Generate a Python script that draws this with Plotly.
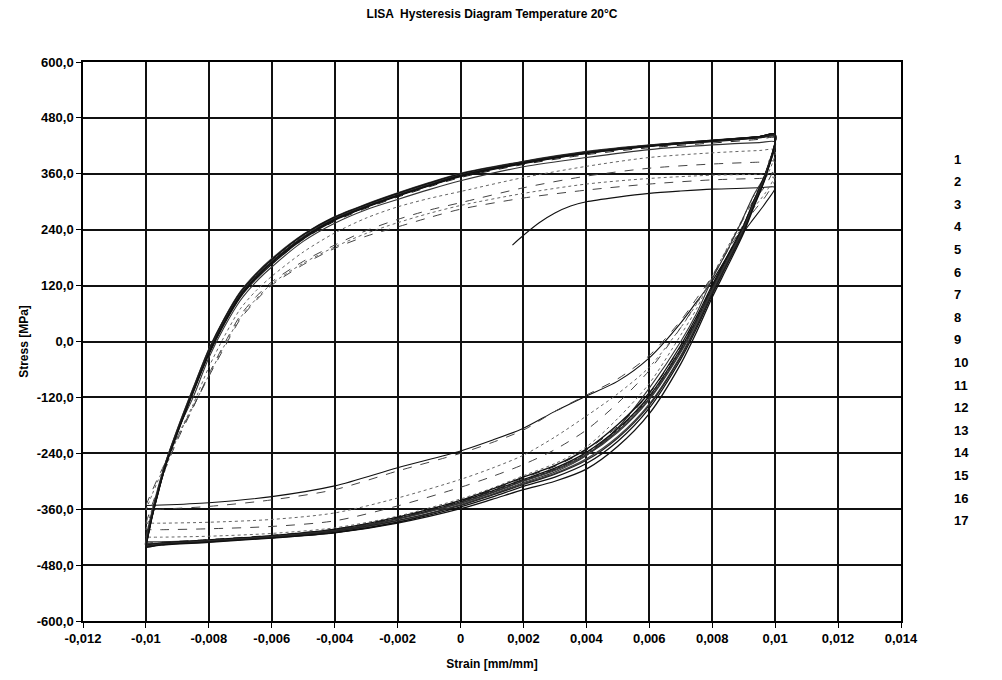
import plotly.graph_objects as go

# ---------------- data ----------------
LOAD_STRAIN = [-0.01, -0.0098, -0.0096, -0.0094, -0.009, -0.0085, -0.008, -0.0075, -0.007, -0.0065,
               -0.006, -0.005, -0.004, -0.003, -0.002, -0.001, 0.0, 0.002, 0.004, 0.006,
               0.008, 0.0095, 0.01]
UNLOAD_STRAIN = [0.01, 0.0097, 0.0093, 0.009, 0.0085, 0.008, 0.0075, 0.007, 0.006, 0.005,
                 0.004, 0.003, 0.002, 0.001, 0.0, -0.002, -0.004, -0.006, -0.008, -0.0095, -0.01]

c01_load_strain = [0.00165, 0.002, 0.0025, 0.003, 0.0035, 0.004, 0.005, 0.006, 0.007, 0.008, 0.009, 0.0095, 0.01]
c01_load = [207, 228, 255, 276, 291, 300, 310, 318, 323, 327, 329, 330, 331]
c01_unload = [331, 298, 262, 235, 185, 130, 85, 40, -35, -85, -117, -150, -186, -212, -235, -271, -310, -333, -346, -351, -352]

c02_load = [-352, -320, -290, -262, -205, -140, -75, -12, 48, 88, 121, 165, 200, 226, 246, 266, 284, 308, 325, 338, 347, 350, 351]
c02_unload = [351, 312, 278, 248, 196, 140, 92, 45, -30, -80, -115, -150, -190, -217, -240, -278, -318, -340, -354, -360, -362]

c03_load = [-362, -328, -296, -266, -207, -140, -73, -8, 51, 91, 124, 168, 203, 232, 255, 275, 292, 318, 338, 350, 357, 359, 360]
c03_unload = [360, 320, 285, 252, 196, 136, 80, 30, -55, -112, -160, -205, -244, -272, -296, -336, -368, -382, -388, -390, -390]

c04_load = [-390, -350, -312, -276, -212, -142, -70, -4, 56, 96, 128, 172, 207, 238, 262, 282, 298, 330, 355, 372, 381, 385, 386]
c04_unload = [386, 335, 302, 264, 202, 140, 82, 30, -62, -132, -190, -232, -264, -290, -313, -353, -385, -397, -402, -404, -404]

c05_load = [-404, -358, -316, -278, -205, -135, -55, 12, 70, 109, 140, 192, 233, 265, 289, 307, 322, 352, 376, 395, 405, 410, 411]
c05_unload = [411, 350, 310, 268, 204, 140, 70, 14, -90, -165, -226, -262, -288, -315, -338, -375, -400, -412, -418, -420, -420]

c06_load = [-420, -362, -310, -265, -192, -120, -35, 32, 88, 128, 160, 215, 254, 283, 305, 326, 345, 375, 395, 412, 422, 427, 428]
c06_unload = [428, 360, 312, 268, 198, 134, 60, 0, -100, -185, -245, -280, -303, -328, -350, -388, -410, -421, -427, -430, -430]

c07_load = [-430, -368, -315, -266, -192, -107, -26, 40, 96, 135, 166, 219, 258, 286, 310, 332, 352, 380, 401, 416, 426, 434, 437]
c07_unload = [437, 362, 300, 250, 186, 120, 52, -10, -112, -182, -233, -268, -293, -319, -342, -378, -403, -416, -425, -431, -433]

c08_load = [-433, -370, -317, -268, -193, -106, -23, 44, 100, 139, 171, 223, 262, 289, 313, 335, 355, 383, 404, 419, 429, 437, 440]
c08_unload = [440, 361, 297, 247, 182, 116, 47, -15, -117, -187, -238, -272, -296, -321, -344, -380, -405, -418, -427, -433, -435]

c09_load = [-435, -371, -316, -265, -188, -100, -16, 50, 106, 145, 176, 228, 266, 293, 317, 339, 358, 385, 406, 420, 430, 438, 441]
c09_unload = [441, 359, 294, 244, 178, 112, 42, -20, -122, -192, -242, -275, -299, -324, -347, -381, -406, -419, -428, -434, -436]

c10_load = [-436, -373, -319, -269, -193, -104, -20, 47, 103, 142, 174, 226, 265, 292, 316, 338, 358, 385, 406, 421, 431, 439, 442]
c10_unload = [442, 360, 295, 245, 180, 114, 45, -18, -120, -190, -240, -274, -298, -322, -345, -380, -405, -418, -427, -433, -437]

c11_load = [-437, -374, -321, -272, -197, -110, -28, 39, 95, 134, 166, 220, 260, 288, 312, 334, 354, 382, 404, 419, 430, 438, 443]
c11_unload = [443, 363, 299, 250, 186, 121, 53, -8, -110, -178, -231, -266, -291, -317, -341, -377, -403, -417, -426, -433, -438]

c12_load = [-438, -371, -316, -266, -189, -101, -17, 51, 107, 146, 178, 230, 268, 295, 319, 341, 361, 387, 408, 422, 432, 440, 443]
c12_unload = [443, 357, 291, 240, 173, 106, 35, -30, -134, -204, -252, -283, -305, -329, -351, -385, -408, -420, -429, -435, -439]

c13_load = [-439, -375, -321, -271, -195, -107, -24, 43, 99, 138, 170, 223, 262, 290, 314, 336, 356, 384, 405, 420, 431, 439, 444]
c13_unload = [444, 361, 296, 246, 181, 115, 46, -17, -119, -189, -239, -273, -297, -321, -344, -379, -404, -418, -427, -434, -439]

c14_load = [-439, -372, -318, -268, -191, -103, -19, 49, 105, 144, 176, 229, 267, 294, 318, 340, 360, 386, 407, 421, 432, 440, 444]
c14_unload = [444, 355, 288, 237, 169, 101, 28, -38, -143, -214, -262, -291, -311, -334, -355, -388, -410, -421, -430, -436, -440]

c15_load = [-440, -374, -320, -270, -194, -106, -22, 45, 101, 140, 172, 225, 264, 291, 315, 337, 357, 385, 406, 421, 431, 440, 444]
c15_unload = [444, 359, 293, 243, 177, 110, 40, -23, -125, -195, -244, -277, -300, -325, -347, -381, -406, -419, -428, -435, -440]

c16_load = [-440, -375, -321, -271, -195, -107, -23, 44, 100, 139, 171, 224, 263, 290, 314, 336, 357, 385, 406, 421, 432, 440, 445]
c16_unload = [445, 357, 290, 239, 171, 104, 32, -33, -137, -207, -255, -285, -307, -330, -352, -384, -407, -420, -429, -435, -441]

c17_load = [-441, -376, -322, -272, -196, -108, -25, 42, 98, 137, 169, 222, 262, 289, 313, 335, 356, 384, 405, 420, 431, 440, 445]
c17_unload = [445, 353, 285, 233, 163, 95, 20, -48, -155, -225, -274, -300, -318, -339, -359, -390, -411, -422, -431, -437, -442]

SERIES_NAMES = [str(i) for i in range(1, 18)]
Y_TICKS = [600, 480, 360, 240, 120, 0, -120, -240, -360, -480, -600]
Y_TICK_TEXT = ["600,0", "480,0", "360,0", "240,0", "120,0", "0,0", "-120,0", "-240,0", "-360,0", "-480,0", "-600,0"]
X_TICKS = [-0.012, -0.01, -0.008, -0.006, -0.004, -0.002, 0, 0.002, 0.004, 0.006, 0.008, 0.01, 0.012, 0.014]
X_TICK_TEXT = ["-0,012", "-0,01", "-0,008", "-0,006", "-0,004", "-0,002", "0", "0,002", "0,004",
               "0,006", "0,008", "0,01", "0,012", "0,014"]

# ---------------- build ----------------
cycles = [
    (c01_load_strain, c01_load, c01_unload),
    (LOAD_STRAIN, c02_load, c02_unload),
    (LOAD_STRAIN, c03_load, c03_unload),
    (LOAD_STRAIN, c04_load, c04_unload),
    (LOAD_STRAIN, c05_load, c05_unload),
    (LOAD_STRAIN, c06_load, c06_unload),
    (LOAD_STRAIN, c07_load, c07_unload),
    (LOAD_STRAIN, c08_load, c08_unload),
    (LOAD_STRAIN, c09_load, c09_unload),
    (LOAD_STRAIN, c10_load, c10_unload),
    (LOAD_STRAIN, c11_load, c11_unload),
    (LOAD_STRAIN, c12_load, c12_unload),
    (LOAD_STRAIN, c13_load, c13_unload),
    (LOAD_STRAIN, c14_load, c14_unload),
    (LOAD_STRAIN, c15_load, c15_unload),
    (LOAD_STRAIN, c16_load, c16_unload),
    (LOAD_STRAIN, c17_load, c17_unload),
]

colors = ['#111111', '#444444', '#666666', '#444444', '#666666', '#333333', '#222222', '#111111',
          '#333333', '#222222', '#111111', '#444444', '#222222', '#111111', '#333333', '#222222', '#111111']
dashes = ['solid', 'dash', 'dot', 'dash', 'dot', 'solid', 'dash', 'solid', 'solid', 'dot',
          'solid', 'solid', 'dash', 'solid', 'solid', 'solid', 'solid']
widths = [1.1, 1, 1, 1, 1, 1.1, 1, 1.3, 1.2, 1, 1.3, 1.2, 1, 1.3, 1.2, 1.2, 1.3]

fig = go.Figure()
for i, (ls, ld, ul) in enumerate(cycles):
    xs = list(ls) + UNLOAD_STRAIN[1:]
    ys = list(ld) + ul[1:]
    fig.add_trace(go.Scatter(x=xs, y=ys, mode='lines', name=SERIES_NAMES[i],
                             line=dict(color=colors[i], width=widths[i], dash=dashes[i],
                                       shape='spline', smoothing=0.8),
                             showlegend=False))

FONT = "Liberation Sans, Arial, sans-serif"

# legend-like labels (numbers only, as in the original)
W, H = 1002, 680
ML, MR, MT, MB = 83, 101, 62, 59
for i, name in enumerate(SERIES_NAMES):
    ypix = 159 + i * 22.6
    fig.add_annotation(xref='paper', yref='paper',
                       x=(952 - ML) / (W - ML - MR), y=1 - (ypix - MT) / (H - MT - MB),
                       text=name, showarrow=False, xanchor='left', yanchor='middle',
                       font=dict(family=FONT, size=13, color='black', weight='bold'))

fig.update_layout(
    width=W, height=H,
    margin=dict(l=ML, r=MR, t=MT, b=MB),
    paper_bgcolor='white', plot_bgcolor='white',
    title=dict(text="LISA  Hysteresis Diagram Temperature 20°C", x=0.5, xref='paper',
               y=1 - 14 / H, yanchor='middle', xanchor='center',
               font=dict(family=FONT, size=12, color='black', weight='bold')),
    font=dict(family=FONT, color='black'),
)
fig.update_xaxes(range=[-0.012, 0.014], tickvals=X_TICKS, ticktext=X_TICK_TEXT,
                 showgrid=True, gridcolor='#111111', gridwidth=1.5, zeroline=False,
                 showline=True, linecolor='black', linewidth=1.5, mirror=True,
                 ticks='outside', ticklen=5, tickcolor='black',
                 tickfont=dict(family=FONT, size=13, color='black', weight='bold'),
                 title=dict(text="Strain [mm/mm]", standoff=14,
                            font=dict(family=FONT, size=12, color='black', weight='bold')))
fig.update_yaxes(range=[-600, 600], tickvals=Y_TICKS, ticktext=Y_TICK_TEXT,
                 showgrid=True, gridcolor='#111111', gridwidth=1.5, zeroline=False,
                 showline=True, linecolor='black', linewidth=1.5, mirror=True,
                 ticks='outside', ticklen=5, tickcolor='black',
                 tickfont=dict(family=FONT, size=13, color='black', weight='bold'),
                 title=dict(text="Stress [MPa]", standoff=6,
                            font=dict(family=FONT, size=12, color='black', weight='bold')))

fig.write_html("out.html")
